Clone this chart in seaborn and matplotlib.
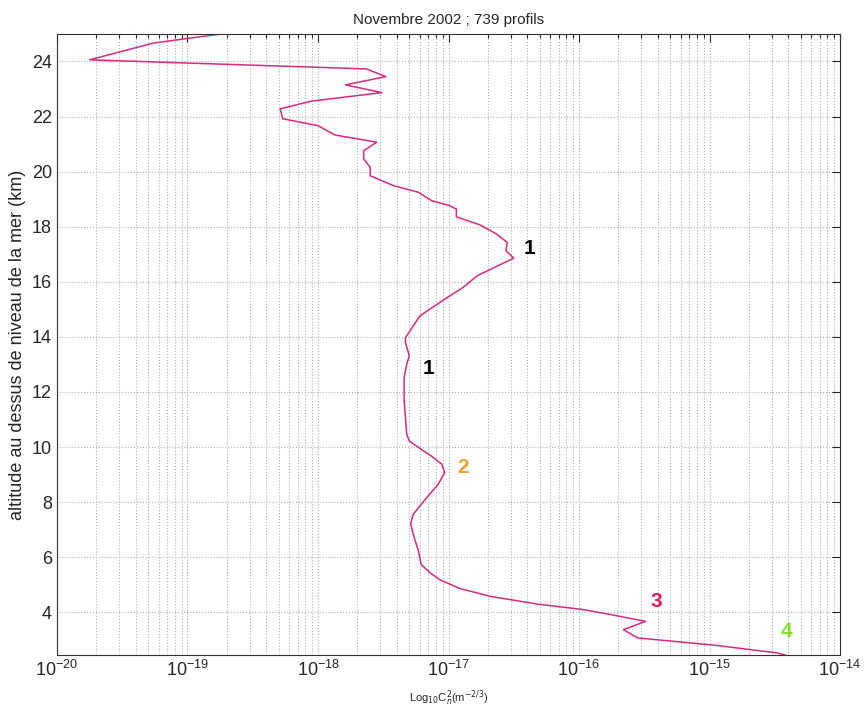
import numpy as np
import pandas as pd
import matplotlib
matplotlib.use('Agg')
import matplotlib.pyplot as plt
import seaborn as sns

# profile: altitude (km) and log10 of Cn2
altitude = [25.0, 24.67, 24.06, 23.73, 23.45, 23.15, 22.87, 22.56, 22.28, 21.92,
            21.67, 21.33, 21.07, 20.76, 20.46, 20.16, 19.85, 19.49, 19.25, 18.95,
            18.76, 18.64, 18.36, 18.07, 17.73, 17.43, 17.13, 16.86, 16.22, 15.79,
            15.43, 14.76, 14.40, 13.97, 13.79, 13.31, 13.01, 12.52, 11.67, 11.07,
            10.46, 10.22, 9.92, 9.67, 9.37, 9.07, 8.64, 8.09, 7.56, 7.22,
            6.83, 6.22, 5.74, 5.43, 5.19, 4.86, 4.58, 4.30, 4.10, 3.92,
            3.67, 3.37, 3.07, 2.80, 2.53, 2.45]
log_cn2 = [-18.74, -19.26, -19.75, -17.63, -17.48, -17.79, -17.51, -18.05, -18.29, -18.27,
           -18.00, -17.87, -17.55, -17.65, -17.65, -17.60, -17.60, -17.42, -17.23, -17.13,
           -16.99, -16.94, -16.94, -16.76, -16.63, -16.55, -16.56, -16.50, -16.78, -16.89,
           -17.01, -17.22, -17.27, -17.33, -17.33, -17.30, -17.32, -17.34, -17.34, -17.33,
           -17.32, -17.30, -17.21, -17.13, -17.05, -17.03, -17.08, -17.18, -17.27, -17.29,
           -17.27, -17.23, -17.21, -17.14, -17.07, -16.91, -16.68, -16.32, -15.97, -15.76,
           -15.49, -15.66, -15.55, -14.95, -14.49, -14.42]

# layer labels
label_text = ['1', '1', '2', '3', '4']
label_x = [4.2e-17, 7.0e-18, 1.3e-17, 3.9e-16, 3.9e-15]
label_y = [17.2, 12.84, 9.27, 4.4, 3.31]
label_color = ['black', 'black', '#f0a030', '#e0185a', '#88dd33']

df = pd.DataFrame({'alt': altitude, 'cn2': 10.0 ** np.array(log_cn2)})

sns.set_style('white')
plt.rcParams['font.family'] = ['Liberation Sans', 'DejaVu Sans']

fig = plt.figure(figsize=(8.66, 7.22), dpi=100)
ax = fig.add_axes([0.0658, 0.0928, 0.9042, 0.8602])

sns.lineplot(data=df, x='cn2', y='alt', sort=False, estimator=None,
             color='#d42a80', linewidth=1.1, ax=ax)

ax.set_xscale('log')
ax.set_xlim(1e-20, 1e-14)
ax.set_ylim(2.45, 25)
ax.set_yticks(range(4, 25, 2))
ax.set_xticks([10.0 ** e for e in range(-20, -13)])

ax.grid(True, which='major', axis='both', color='#b0b0b0', linestyle=':', linewidth=0.8)
ax.grid(True, which='minor', axis='x', color='#b0b0b0', linestyle=':', linewidth=0.8)

ax.tick_params(which='both', direction='in', top=True, right=True, labelsize=13)
ax.tick_params(which='major', length=6, width=0.8)
ax.tick_params(which='minor', length=3, width=0.8)
for s in ax.spines.values():
    s.set_color('#333333')
    s.set_linewidth(0.8)

for t, x, y, c in zip(label_text, label_x, label_y, label_color):
    ax.text(x, y, t, color=c, fontsize=15, fontweight='bold', ha='center', va='center')

ax.set_title('Novembre 2002 ; 739 profils', fontsize=11, pad=7)
ax.set_xlabel('Log$_{10}$C$_n^2$(m$^{-2/3}$)', fontsize=8, labelpad=6)
ax.set_ylabel('altitude au dessus de niveau de la mer (km)', fontsize=13)

fig.savefig('out.png', dpi=100)
